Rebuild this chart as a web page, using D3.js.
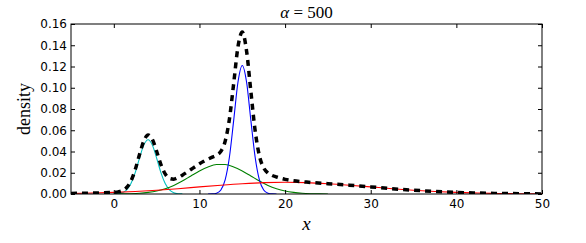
<!DOCTYPE html>
<html>
<head>
<meta charset="utf-8">
<script src="https://cdn.jsdelivr.net/npm/d3@7"></script>
<style>
  body { margin: 0; background: #fff; }
  .tick text { font-family: "DejaVu Sans", sans-serif; font-size: 12px; fill: #000; }
</style>
</head>
<body>
<div id="chart"></div>
<script>
// ---- data ----
const xTicks = [0, 10, 20, 30, 40, 50];
const yTicks = [0, 0.02, 0.04, 0.06, 0.08, 0.10, 0.12, 0.14, 0.16];

// cyan component
const cyanX = [0, 0.5, 1, 1.5, 2, 2.5, 3, 3.5, 4, 4.5, 5, 5.5, 6, 6.5, 7, 7.5, 8];
const cyanY = [0.0001, 0.0003, 0.0012, 0.0039, 0.0098, 0.0201, 0.0338, 0.046, 0.051,
               0.046, 0.0338, 0.0201, 0.0098, 0.0039, 0.0012, 0.0003, 0.0001];

// blue component
const blueX = [11, 11.5, 12, 12.5, 13, 13.5, 14, 14.5, 15, 15.5, 16, 16.5, 17, 17.5, 18, 18.5, 19];
const blueY = [0, 0.0001, 0.0008, 0.0038, 0.0132, 0.0348, 0.0695, 0.1054, 0.121,
               0.1054, 0.0695, 0.0348, 0.0132, 0.0038, 0.0008, 0.0001, 0];

// green component
const greenX = [0, 1, 2, 3, 4, 5, 6, 7, 8, 9, 10, 11, 12, 13, 14, 15, 16, 17, 18, 19, 20, 21, 22, 23, 24, 25];
const greenY = [0.00005, 0.0001, 0.0003, 0.0007, 0.0015, 0.0028, 0.0050, 0.0081, 0.0122, 0.0170,
                0.0217, 0.0255, 0.0277, 0.0277, 0.0255, 0.0217, 0.0170, 0.0122, 0.0081, 0.0050,
                0.0028, 0.0015, 0.0007, 0.0003, 0.0001, 0.00005];

// red component
const redX = [-5, -2.5, 0, 2.5, 5, 7.5, 10, 12.5, 15, 17.5, 20, 22.5, 25, 27.5, 30, 32.5, 35, 37.5, 40, 42.5, 45, 47.5, 50];
const redY = [0.0005, 0.0009, 0.0015, 0.0024, 0.0036, 0.0050, 0.0067, 0.0083, 0.0097, 0.0107, 0.0110,
              0.0107, 0.0097, 0.0083, 0.0067, 0.0050, 0.0036, 0.0024, 0.0015, 0.0009, 0.0005, 0.0003, 0.0001];

// total density (dashed)
const totalX = [-5, -2.5, 0, 0.5, 1, 1.5, 2, 2.5, 3, 3.5, 4, 4.5, 5, 5.5, 6, 6.5, 7, 7.5, 8, 8.5, 9, 9.5,
                10, 10.5, 11, 11.5, 12, 12.5, 13, 13.5, 14, 14.5, 15, 15.5, 16, 16.5, 17, 17.5, 18, 18.5,
                19, 19.5, 20, 22.5, 25, 27.5, 30, 32.5, 35, 37.5, 40, 42.5, 45, 47.5, 50];
const totalY = [0.0005, 0.0009, 0.0016, 0.0020, 0.0031, 0.0061, 0.0123, 0.0230, 0.0371, 0.0498, 0.0556,
                0.0514, 0.0402, 0.0277, 0.0189, 0.0147, 0.0140, 0.0154, 0.0177, 0.0203, 0.0230, 0.0257,
                0.0284, 0.0308, 0.0328, 0.0347, 0.0365, 0.0401, 0.0495, 0.0706, 0.1042, 0.1387, 0.1524,
                0.1347, 0.0967, 0.0598, 0.0359, 0.0246, 0.0197, 0.0174, 0.0160, 0.0148, 0.0138, 0.0112,
                0.0097, 0.0083, 0.0067, 0.0050, 0.0036, 0.0024, 0.0015, 0.0009, 0.0005, 0.0003, 0.0001];

// ---- layout ----
const width = 586, height = 243;
const margin = { top: 24, right: 44, bottom: 49, left: 71 };
const iw = width - margin.left - margin.right;
const ih = height - margin.top - margin.bottom;

const svg = d3.select("#chart").append("svg")
    .attr("width", width)
    .attr("height", height)
    .style("display", "block");

const g = svg.append("g").attr("transform", `translate(${margin.left},${margin.top})`);

const x = d3.scaleLinear().domain([-5, 50]).range([0, iw]);
const y = d3.scaleLinear().domain([0, 0.16]).range([ih, 0]);

g.append("clipPath").attr("id", "clip")
  .append("rect").attr("width", iw).attr("height", ih);

const line = d3.line()
    .x(d => x(d[0]))
    .y(d => y(d[1]))
    .curve(d3.curveMonotoneX);

const series = [
  { xs: cyanX, ys: cyanY, color: "#00bfbf" },
  { xs: greenX, ys: greenY, color: "#008000" },
  { xs: blueX, ys: blueY, color: "#0000ff" },
  { xs: redX, ys: redY, color: "#ff0000" }
];

const plot = g.append("g").attr("clip-path", "url(#clip)");

series.forEach(s => {
  plot.append("path")
    .datum(s.xs.map((v, i) => [v, s.ys[i]]))
    .attr("d", line)
    .attr("fill", "none")
    .attr("stroke", s.color)
    .attr("stroke-width", 1.1);
});

plot.append("path")
  .datum(totalX.map((v, i) => [v, totalY[i]]))
  .attr("d", line)
  .attr("fill", "none")
  .attr("stroke", "#000")
  .attr("stroke-width", 3.5)
  .attr("stroke-dasharray", "6,5");

// ---- axes (ticks inward, all four sides) ----
const tl = 4;
g.append("g")
  .attr("transform", `translate(0,${ih})`)
  .call(d3.axisBottom(x).tickValues(xTicks).tickSize(-tl).tickPadding(5.5).tickFormat(d3.format("d")))
  .call(a => a.select(".domain").remove());
g.append("g")
  .call(d3.axisTop(x).tickValues(xTicks).tickSize(-tl).tickFormat(""))
  .call(a => a.select(".domain").remove());
g.append("g")
  .call(d3.axisLeft(y).tickValues(yTicks).tickSize(-tl).tickPadding(4).tickFormat(d3.format(".2f")))
  .call(a => a.select(".domain").remove());
g.append("g")
  .attr("transform", `translate(${iw},0)`)
  .call(d3.axisRight(y).tickValues(yTicks).tickSize(-tl).tickFormat(""))
  .call(a => a.select(".domain").remove());

g.selectAll(".tick line").attr("stroke", "#000");

g.append("rect")
  .attr("width", iw).attr("height", ih)
  .attr("fill", "none").attr("stroke", "#000").attr("stroke-width", 1);

// ---- labels ----
const title = svg.append("text")
  .attr("x", margin.left + iw / 2)
  .attr("y", 18)
  .attr("text-anchor", "middle")
  .style("font-family", "'Liberation Serif', serif")
  .style("font-size", "17px");
title.append("tspan").style("font-style", "italic").text("α");
title.append("tspan").text(" = 500");

svg.append("text")
  .attr("x", margin.left + iw / 2)
  .attr("y", 230)
  .attr("text-anchor", "middle")
  .style("font-family", "'Liberation Serif', serif")
  .style("font-style", "italic")
  .style("font-size", "19px")
  .text("x");

svg.append("text")
  .attr("transform", `translate(30,${margin.top + ih / 2}) rotate(-90)`)
  .attr("text-anchor", "middle")
  .style("font-family", "'Liberation Serif', serif")
  .style("font-size", "18px")
  .text("density");
</script>
</body>
</html>
